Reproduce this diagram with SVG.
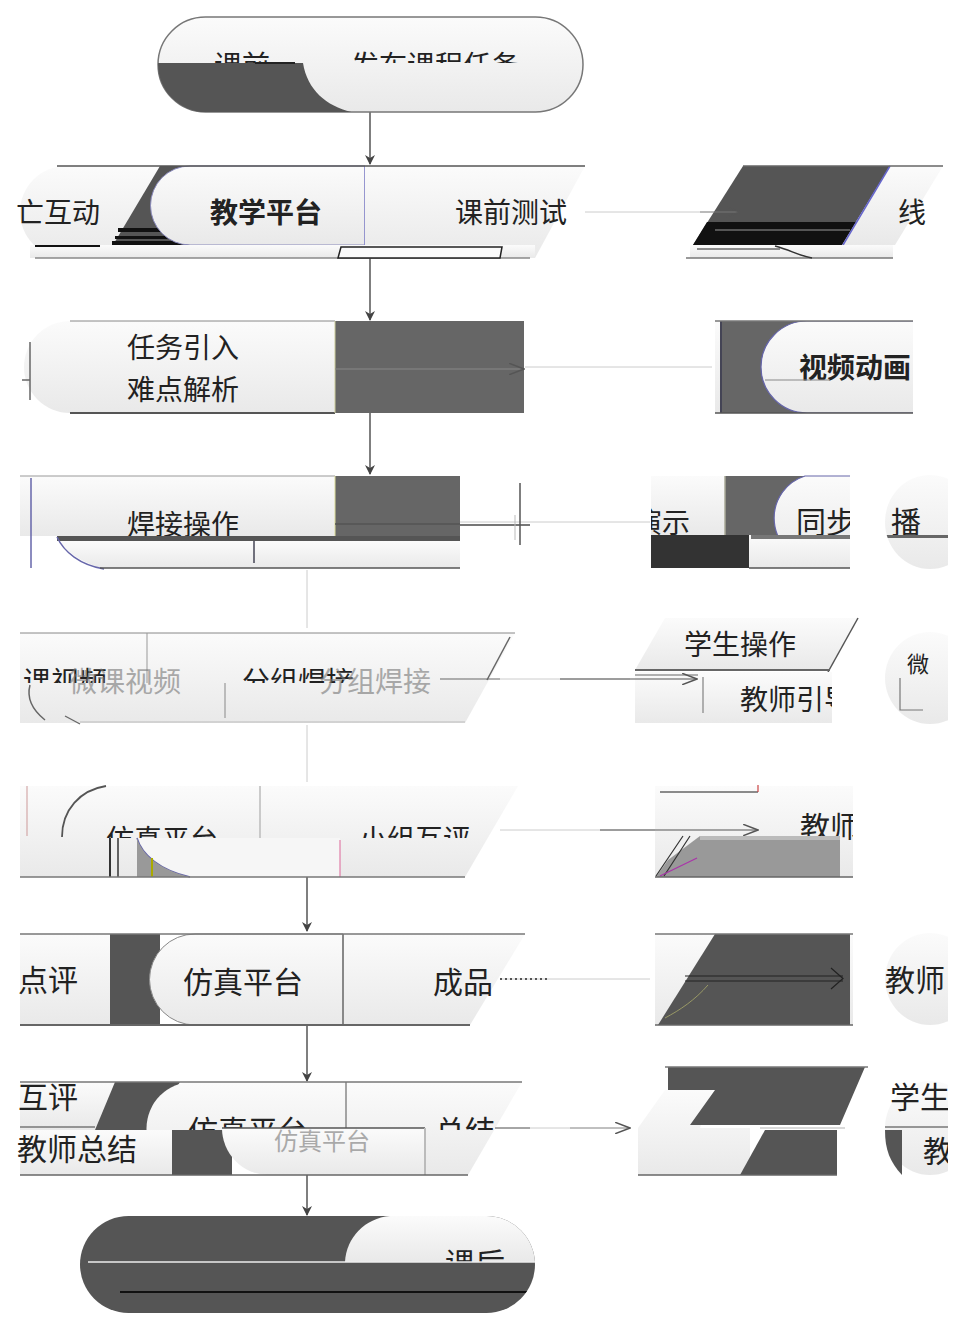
<svg xmlns="http://www.w3.org/2000/svg" width="955" height="1326" viewBox="0 0 955 1326">
<defs>
<linearGradient id="g" x1="0" y1="0" x2="0" y2="1"><stop offset="0" stop-color="#fbfbfb"/><stop offset="1" stop-color="#e9e9e9"/></linearGradient>
<marker id="ah" viewBox="0 0 10 10" refX="9" refY="5" markerWidth="10" markerHeight="10" markerUnits="userSpaceOnUse" orient="auto"><path d="M0,0 L10,5 L0,10 L3,5 Z" fill="#444"/></marker>
<marker id="ao" viewBox="0 0 14 10" refX="13" refY="5" markerWidth="16" markerHeight="12" markerUnits="userSpaceOnUse" orient="auto"><path d="M0,0 L13,5 L0,10" fill="none" stroke="#555" stroke-width="1.3"/></marker>
<clipPath id="c1"><rect x="158" y="17" width="425" height="95" rx="47.5"/></clipPath>
<clipPath id="c1t"><rect x="150" y="0" width="440" height="63"/></clipPath>
<clipPath id="c2t"><rect x="360" y="160" width="212" height="100"/></clipPath>
<clipPath id="c3"><rect x="880" y="160" width="48" height="100"/></clipPath>
<clipPath id="c4"><rect x="715" y="321" width="198" height="92"/></clipPath>
<clipPath id="c5a"><rect x="20" y="470" width="315" height="66"/></clipPath>
<clipPath id="c5b"><rect x="651" y="470" width="74" height="65"/></clipPath>
<clipPath id="c5c"><rect x="760" y="470" width="90" height="65"/></clipPath>
<clipPath id="c5d"><ellipse cx="930" cy="522" rx="45" ry="47"/></clipPath>
<clipPath id="c5e"><rect x="880" y="470" width="68" height="110"/></clipPath>
<clipPath id="c6a"><rect x="20" y="630" width="500" height="53"/></clipPath>
<clipPath id="c6b"><rect x="703" y="670" width="129" height="53"/></clipPath>
<clipPath id="c6c"><rect x="880" y="630" width="68" height="100"/></clipPath>
<clipPath id="c7a"><rect x="20" y="780" width="500" height="58"/></clipPath>
<clipPath id="c7b"><rect x="655" y="780" width="198" height="60"/></clipPath>
<clipPath id="c7c"><rect x="885" y="780" width="63" height="60"/></clipPath>
<clipPath id="c8a"><rect x="343" y="930" width="160" height="100"/></clipPath>
<clipPath id="c8c"><rect x="880" y="930" width="68" height="100"/></clipPath>
<clipPath id="c9a"><rect x="145" y="1080" width="200" height="50"/></clipPath>
<clipPath id="c9b"><rect x="343" y="1080" width="160" height="50"/></clipPath>
<clipPath id="c9c"><rect x="880" y="1060" width="68" height="120"/></clipPath>
<clipPath id="c10"><rect x="80" y="1216" width="455" height="97" rx="48.5"/></clipPath>
<clipPath id="c10t"><rect x="340" y="1210" width="200" height="52"/></clipPath>
</defs>
<style>
.l{fill:url(#g)}
.ls{fill:url(#g);stroke:#777;stroke-width:1.5}
.d{fill:#555}
.d6{fill:#666}
.k{fill:#111}
.t{font-family:"Noto Sans CJK SC","Noto Sans",sans-serif;font-size:28px;fill:#222;text-anchor:middle}
.tb{font-weight:bold}
.gh{fill:#777;opacity:0.6}
.e{fill:none;stroke:#666;stroke-width:1.5}
.cn{fill:none;stroke:#555;stroke-width:1.5}
.cf{fill:none;stroke:#ccc;stroke-width:1}
</style>

<g id="connectors">
<line class="cn" x1="370" y1="112" x2="370" y2="164" marker-end="url(#ah)"/>
<line class="cn" x1="370" y1="258" x2="370" y2="320" marker-end="url(#ah)"/>
<line class="cn" x1="370" y1="413" x2="370" y2="474" marker-end="url(#ah)"/>
<line class="cf" x1="307" y1="570" x2="307" y2="628"/>
<line class="cf" x1="307" y1="725" x2="307" y2="782"/>
<line class="cn" x1="307" y1="877" x2="307" y2="931" marker-end="url(#ah)"/>
<line class="cn" x1="307" y1="1025" x2="307" y2="1081" marker-end="url(#ah)"/>
<line class="cn" x1="307" y1="1175" x2="307" y2="1215" marker-end="url(#ah)"/>
<line class="cf" x1="585" y1="212" x2="700" y2="212"/>
<line class="cf" x1="525" y1="367" x2="712" y2="367"/>
<line class="cf" x1="460" y1="522" x2="650" y2="522"/>
<line class="cf" x1="500" y1="679" x2="630" y2="679"/>
<line class="cf" x1="500" y1="830" x2="655" y2="830"/>
<line class="cf" x1="500" y1="979" x2="650" y2="979"/>
<line class="cf" x1="495" y1="1128" x2="630" y2="1128"/>
</g>

<g id="n1">
<rect class="ls" x="158" y="17" width="425" height="95" rx="47.5"/>
<g clip-path="url(#c1)">
<path class="d" d="M150,63 H303 C308,94 332,110 362,114 H150 Z"/>
</g>
<rect x="255" y="62" width="40" height="2" fill="#222"/>
<g clip-path="url(#c1t)">
<text class="t" x="242" y="76">课前</text>
<text class="t" x="435" y="76">发布课程任务</text>
</g>
</g>

<g id="n2">
<path class="l" d="M66,166 H160 L112,258 H66 A46,46 0 0 1 66,166 Z"/>
<path class="d" d="M160,166 H240 L190,245 H113 Z"/>
<rect class="k" x="118" y="228" width="70" height="4"/>
<rect class="k" x="115" y="236" width="75" height="3"/>
<rect class="k" x="112" y="241" width="80" height="4"/>
<path class="l" d="M190,166 H365 V245 H190 A39.5,39.5 0 0 1 190,166 Z" stroke="#8888bb" stroke-width="1"/>
<line x1="365" y1="166" x2="365" y2="245" stroke="#8888cc" stroke-width="1.5"/>
<path class="l" d="M365,166 H585 L535,258 H365 Z"/>
<line x1="57" y1="166" x2="585" y2="166" stroke="#555" stroke-width="1.5"/>
<rect class="l" x="30" y="245" width="505" height="13"/>
<line x1="35" y1="246" x2="100" y2="246" stroke="#111" stroke-width="2"/>
<line x1="35" y1="258" x2="530" y2="258" stroke="#888" stroke-width="1.5"/>
<path d="M341,247 H502 L500,258 H338 Z" fill="#fafafa" stroke="#222" stroke-width="1.5"/>
<text class="t" x="58" y="223">亡互动</text>
<text class="t tb" x="266" y="223">教学平台</text>
<g clip-path="url(#c2t)"><text class="t" x="511" y="223">课前测试</text></g>
</g>

<g id="n3">
<path class="d" d="M743,166 H890 L842,245 H693 Z"/>
<path class="k" d="M732,222 H859 L845,245 H693 L707,222 Z"/>
<line x1="715" y1="230" x2="850" y2="230" stroke="#555" stroke-width="2"/>
<path class="l" d="M890,166 H943 L895,245 H842 Z"/>
<line x1="890" y1="166" x2="843" y2="245" stroke="#6666cc" stroke-width="1.5"/>
<line x1="743" y1="166" x2="943" y2="166" stroke="#666" stroke-width="1.5"/>
<rect class="l" x="690" y="245" width="203" height="13"/>
<line x1="686" y1="258" x2="893" y2="258" stroke="#777" stroke-width="1.5"/>
<line x1="697" y1="249" x2="780" y2="249" stroke="#222" stroke-width="1"/>
<path d="M775,246 C790,250 800,256 812,258" fill="none" stroke="#333" stroke-width="1.5"/>
<line x1="700" y1="212" x2="740" y2="212" stroke="#777" stroke-width="1.2" marker-end="url(#ao)"/>
<g clip-path="url(#c3)"><text class="t" x="912" y="223">线</text></g>
</g>

<g id="n4">
<path class="l" d="M70,321 H335 V413 H70 A46,46 0 0 1 70,321 Z"/>
<line x1="70" y1="321" x2="335" y2="321" stroke="#888" stroke-width="1"/>
<line x1="70" y1="413" x2="335" y2="413" stroke="#555" stroke-width="2"/>
<line x1="30" y1="342" x2="30" y2="400" stroke="#666" stroke-width="1.5"/>
<line x1="22" y1="380" x2="30" y2="380" stroke="#666" stroke-width="1.5"/>
<rect class="d6" x="335" y="321" width="189" height="92"/>
<line x1="335" y1="321" x2="335" y2="413" stroke="#cc9" stroke-width="1"/>
<line x1="335" y1="369" x2="524" y2="369" stroke="#888" stroke-width="1.2" marker-end="url(#ao)"/>
<text class="t" x="183" y="358">任务引入</text>
<text class="t" x="183" y="400">难点解析</text>
</g>

<g id="n5">
<rect class="d6" x="715" y="321" width="95" height="92"/>
<rect class="l" x="715" y="321" width="5" height="92"/>
<line x1="721" y1="321" x2="721" y2="413" stroke="#224" stroke-width="1"/>
<g clip-path="url(#c4)">
<path class="l" d="M807,321 H930 V413 H807 A46,46 0 0 1 807,321 Z" stroke="#6666aa" stroke-width="1.2"/>
<text class="t tb" x="855" y="378">视频动画</text>
</g>
<line x1="715" y1="321" x2="913" y2="321" stroke="#777" stroke-width="1.5"/>
<line x1="715" y1="413" x2="913" y2="413" stroke="#555" stroke-width="1.5"/>
<line x1="765" y1="380" x2="830" y2="380" stroke="#888" stroke-width="1"/>
</g>

<g id="n6">
<rect class="l" x="20" y="476" width="315" height="60"/>
<line x1="20" y1="476" x2="335" y2="476" stroke="#999" stroke-width="1"/>
<line x1="31" y1="478" x2="31" y2="568" stroke="#6666aa" stroke-width="1.5"/>
<g clip-path="url(#c5a)"><text class="t" x="183" y="535">焊接操作</text></g>
<rect class="d6" x="335" y="476" width="125" height="60"/>
<line x1="335" y1="476" x2="335" y2="536" stroke="#dd9" stroke-width="1"/>
<line x1="335" y1="524" x2="460" y2="524" stroke="#555" stroke-width="1.5"/>
<rect x="57" y="536" width="403" height="5" fill="#555"/>
<path class="l" d="M60,541 H460 V568 H100 C82,562 66,552 60,541 Z"/>
<path d="M57,537 C64,552 80,565 104,569" fill="none" stroke="#6666aa" stroke-width="1.5"/>
<line x1="254" y1="541" x2="254" y2="563" stroke="#445" stroke-width="1.5"/>
<line x1="100" y1="568" x2="460" y2="568" stroke="#555" stroke-width="1.5"/>
<line x1="460" y1="525" x2="530" y2="525" stroke="#777" stroke-width="2"/>
<line x1="520" y1="483" x2="520" y2="545" stroke="#555" stroke-width="1.5"/>
<line x1="515" y1="515" x2="515" y2="540" stroke="#bbb" stroke-width="1"/>
</g>

<g id="n7">
<rect class="l" x="651" y="476" width="74" height="59"/>
<g clip-path="url(#c5b)"><text class="t" x="662" y="533">演示</text></g>
<rect class="d6" x="725" y="476" width="125" height="59"/>
<line x1="725" y1="476" x2="725" y2="535" stroke="#aa9" stroke-width="1.5"/>
<g clip-path="url(#c5c)">
<path class="l" d="M805,476 H860 V560 H805 A44,44 0 0 1 805,476 Z" stroke="#6666aa" stroke-width="1.2"/>
<text class="t" x="826" y="533" style="font-size:30px">同步</text>
</g>
<rect x="651" y="535" width="98" height="33" fill="#333"/>
<rect class="l" x="749" y="535" width="101" height="33"/>
<rect x="751" y="535" width="99" height="4" fill="#777"/>
<line x1="749" y1="568" x2="850" y2="568" stroke="#555" stroke-width="1.5"/>
<g clip-path="url(#c5e)">
<ellipse class="l" cx="930" cy="522" rx="45" ry="47"/>
<g clip-path="url(#c5d)">
<text class="t" x="906" y="533" style="font-size:30px">播</text>
<rect x="885" y="535" width="70" height="3" fill="#666"/>
</g>
</g>
</g>

<g id="n8">
<rect class="l" x="20" y="633" width="125" height="90"/>
<path class="l" d="M145,633 H515 L465,723 H145 Z"/>
<line x1="20" y1="633" x2="515" y2="633" stroke="#888" stroke-width="1"/>
<line x1="147" y1="633" x2="147" y2="683" stroke="#999" stroke-width="1"/>
<line x1="510" y1="637" x2="487" y2="680" stroke="#666" stroke-width="1.5"/>
<g clip-path="url(#c6a)">
<text class="t" x="65" y="692">课视频</text>
<text class="t" x="298" y="692">分组焊接</text>
</g>
<text class="t gh" x="125" y="692">微课视频</text>
<text class="t gh" x="375" y="692">分组焊接</text>
<path d="M30,685 C26,700 35,712 45,720" fill="none" stroke="#666" stroke-width="1.5"/>
<line x1="225" y1="683" x2="225" y2="718" stroke="#aaa" stroke-width="1.5"/>
<path d="M65,716 L80,724" stroke="#666" stroke-width="1.2"/>
<line x1="80" y1="722" x2="465" y2="722" stroke="#bbb" stroke-width="1"/>
<line x1="440" y1="679" x2="500" y2="679" stroke="#666" stroke-width="1.2"/>
</g>

<g id="n9">
<path class="l" d="M665,618 H858 L830,670 H635 Z"/>
<line x1="858" y1="618" x2="828" y2="672" stroke="#555" stroke-width="1.5"/>
<line x1="635" y1="670" x2="830" y2="670" stroke="#666" stroke-width="2"/>
<text class="t" x="740" y="655">学生操作</text>
<rect class="l" x="635" y="672" width="197" height="51"/>
<line x1="703" y1="677" x2="703" y2="713" stroke="#999" stroke-width="1.5"/>
<line x1="635" y1="675" x2="698" y2="675" stroke="#666" stroke-width="1.2"/>
<line x1="560" y1="679" x2="697" y2="679" stroke="#555" stroke-width="1.2" marker-end="url(#ao)"/>
<g clip-path="url(#c6b)"><text class="t" x="796" y="710">教师引导</text></g>
<g clip-path="url(#c6c)">
<ellipse class="l" cx="930" cy="678" rx="45" ry="46"/>
<text class="t" x="918" y="672" style="font-size:22px">微</text>
<path d="M900,678 V710 H923" fill="none" stroke="#777" stroke-width="1.2"/>
</g>
</g>

<g id="n10">
<rect class="l" x="20" y="786" width="240" height="91"/>
<path class="l" d="M260,786 H518 L465,877 H260 Z"/>
<line x1="260" y1="786" x2="260" y2="840" stroke="#bbb" stroke-width="1.5"/>
<path d="M62,837 C62,810 80,790 106,786" fill="none" stroke="#555" stroke-width="1.8"/>
<line x1="27" y1="786" x2="27" y2="836" stroke="#c99" stroke-width="1"/>
<g clip-path="url(#c7a)">
<text class="t" x="162" y="850">仿真平台</text>
<text class="t" x="415" y="850">小组互评</text>
</g>
<line x1="110" y1="838" x2="110" y2="877" stroke="#333" stroke-width="2"/>
<line x1="118" y1="838" x2="118" y2="877" stroke="#333" stroke-width="1.5"/>
<path d="M137,838 H340 V877 H190 C160,870 142,855 137,838 Z" fill="#f6f6f6"/>
<path d="M137,838 C142,855 160,870 190,877" fill="none" stroke="#6666aa" stroke-width="1.5"/>
<path d="M137,838 V877 H190 C160,870 142,855 137,838 Z" fill="#999"/>
<line x1="152" y1="858" x2="152" y2="877" stroke="#aa0" stroke-width="2"/>
<line x1="340" y1="840" x2="340" y2="877" stroke="#d69" stroke-width="1"/>
<line x1="20" y1="877" x2="465" y2="877" stroke="#777" stroke-width="1.5"/>
</g>

<g id="n11">
<rect class="l" x="655" y="786" width="198" height="91"/>
<line x1="660" y1="792" x2="758" y2="792" stroke="#666" stroke-width="1.5"/>
<line x1="758" y1="785" x2="758" y2="792" stroke="#c44" stroke-width="1.2"/>
<line x1="600" y1="830" x2="758" y2="830" stroke="#555" stroke-width="1.2" marker-end="url(#ao)"/>
<g clip-path="url(#c7b)"><text class="t" x="830" y="838" style="font-size:30px">教师</text></g>
<path d="M700,836 H840 V877 H656 L668,860 Z" fill="#999"/>
<rect x="700" y="836" width="140" height="4" fill="#bbb"/>
<path d="M656,876 L683,836 M664,876 L690,836" stroke="#333" stroke-width="1.2"/>
<path d="M660,876 L697,858" stroke="#a3a" stroke-width="1.2"/>
<line x1="655" y1="877" x2="853" y2="877" stroke="#666" stroke-width="1.5"/>
<g clip-path="url(#c8c)">
<ellipse class="l" cx="930" cy="830" rx="45" ry="46"/>
<g clip-path="url(#c7c)"><text class="t" x="905" y="838" style="font-size:30px">导</text></g>
</g>
</g>

<g id="n12">
<rect class="l" x="20" y="934" width="90" height="91"/>
<rect class="d" x="110" y="934" width="50" height="91"/>
<path class="l" d="M195,934 H343 V1025 H195 A45.5,45.5 0 0 1 195,934 Z" stroke="#888" stroke-width="1"/>
<path class="l" d="M343,934 H525 L470,1025 H343 Z"/>
<line x1="343" y1="934" x2="343" y2="1025" stroke="#888" stroke-width="2"/>
<line x1="20" y1="934" x2="525" y2="934" stroke="#777" stroke-width="1.5"/>
<line x1="20" y1="1025" x2="470" y2="1025" stroke="#666" stroke-width="2"/>
<text class="t" x="48" y="991" style="font-size:30px">点评</text>
<text class="t" x="243" y="993" style="font-size:30px">仿真平台</text>
<g clip-path="url(#c8a)"><text class="t" x="463" y="993" style="font-size:30px">成品</text></g>
<line x1="500" y1="979" x2="550" y2="979" stroke="#555" stroke-width="2" stroke-dasharray="2,3"/>
</g>

<g id="n13">
<rect class="l" x="655" y="934" width="198" height="91"/>
<path class="d" d="M715,934 H850 V1025 H658 Z"/>
<line x1="655" y1="934" x2="853" y2="934" stroke="#777" stroke-width="1.5"/>
<line x1="655" y1="1025" x2="853" y2="1025" stroke="#666" stroke-width="1.5"/>
<line x1="685" y1="976" x2="843" y2="976" stroke="#222" stroke-width="1"/>
<line x1="685" y1="981" x2="843" y2="981" stroke="#222" stroke-width="1"/>
<path d="M831,968 L843,978.5 L831,989" fill="none" stroke="#222" stroke-width="1.2"/>
<path d="M665,1018 C680,1010 695,1000 708,985" fill="none" stroke="#996" stroke-width="1"/>
<g clip-path="url(#c8c)">
<ellipse class="l" cx="930" cy="979" rx="45" ry="46"/>
<text class="t" x="915" y="991" style="font-size:30px">教师</text>
</g>
</g>

<g id="n14">
<rect class="l" x="20" y="1082" width="100" height="48"/>
<path class="d" d="M115,1082 H180 L150,1130 H95 Z"/>
<g clip-path="url(#c9a)">
<path class="l" d="M193,1082 H343 V1175 H193 A46,46 0 0 1 193,1082 Z"/>
<text class="t" x="248" y="1142" style="font-size:30px">仿真平台</text>
</g>
<path class="l" d="M343,1082 H522 L468,1175 H343 Z"/>
<line x1="346" y1="1082" x2="346" y2="1130" stroke="#888" stroke-width="1.5"/>
<g clip-path="url(#c9b)"><text class="t" x="465" y="1142" style="font-size:30px">总结</text></g>
<line x1="20" y1="1082" x2="522" y2="1082" stroke="#777" stroke-width="1.5"/>
<text class="t" x="48" y="1108" style="font-size:30px">互评</text>
<line x1="20" y1="1127" x2="95" y2="1127" stroke="#777" stroke-width="1.5"/>
<rect class="l" x="20" y="1130" width="152" height="45"/>
<text class="t" x="77" y="1160" style="font-size:30px">教师总结</text>
<rect class="d" x="172" y="1130" width="60" height="45"/>
<path class="l" d="M268,1128 H425 V1175 H268 A47,47 0 0 1 222,1128 Z"/>
<line x1="222" y1="1128" x2="425" y2="1128" stroke="#555" stroke-width="1.5"/>
<line x1="425" y1="1128" x2="425" y2="1175" stroke="#bbb" stroke-width="2"/>
<text class="t gh" x="322" y="1150" style="font-size:24px">仿真平台</text>
<line x1="20" y1="1175" x2="468" y2="1175" stroke="#666" stroke-width="1.5"/>
<line x1="495" y1="1128" x2="530" y2="1128" stroke="#666" stroke-width="1.2"/>
</g>

<g id="n15">
<path class="l" d="M665,1090 L638,1128 V1175 H750 V1128 H700 L712,1090 Z"/>
<path class="d" d="M668,1067 H865 L840,1125 H690 L715,1090 H668 Z"/>
<line x1="665" y1="1067" x2="868" y2="1067" stroke="#777" stroke-width="1.5"/>
<path class="d" d="M765,1130 H837 V1175 H740 Z"/>
<line x1="760" y1="1128" x2="845" y2="1128" stroke="#ccc" stroke-width="1.5"/>
<line x1="638" y1="1175" x2="837" y2="1175" stroke="#666" stroke-width="1.5"/>
<line x1="570" y1="1128" x2="630" y2="1128" stroke="#999" stroke-width="1.2" marker-end="url(#ao)"/>
<g clip-path="url(#c9c)">
<ellipse class="l" cx="930" cy="1128" rx="45" ry="47"/>
<text class="t" x="920" y="1108" style="font-size:30px">学生</text>
<line x1="885" y1="1127" x2="948" y2="1127" stroke="#777" stroke-width="1.5"/>
<path d="M885,1130 C885,1150 890,1162 902,1175 V1130 Z" fill="#555"/>
<text class="t" x="938" y="1162" style="font-size:30px">教</text>
</g>
</g>

<g id="n16">
<rect class="d" x="80" y="1216" width="455" height="97" rx="48.5"/>
<g clip-path="url(#c10)">
<path class="l" d="M390,1216 H540 V1262 H345 C346,1238 365,1218 390,1216 Z"/>
<g clip-path="url(#c10t)"><text class="t" x="475" y="1274" style="font-size:30px">课后</text></g>
<line x1="88" y1="1262" x2="540" y2="1262" stroke="#eee" stroke-width="1.5"/>
<line x1="120" y1="1292" x2="535" y2="1292" stroke="#111" stroke-width="2"/>
</g>
</g>
</svg>
